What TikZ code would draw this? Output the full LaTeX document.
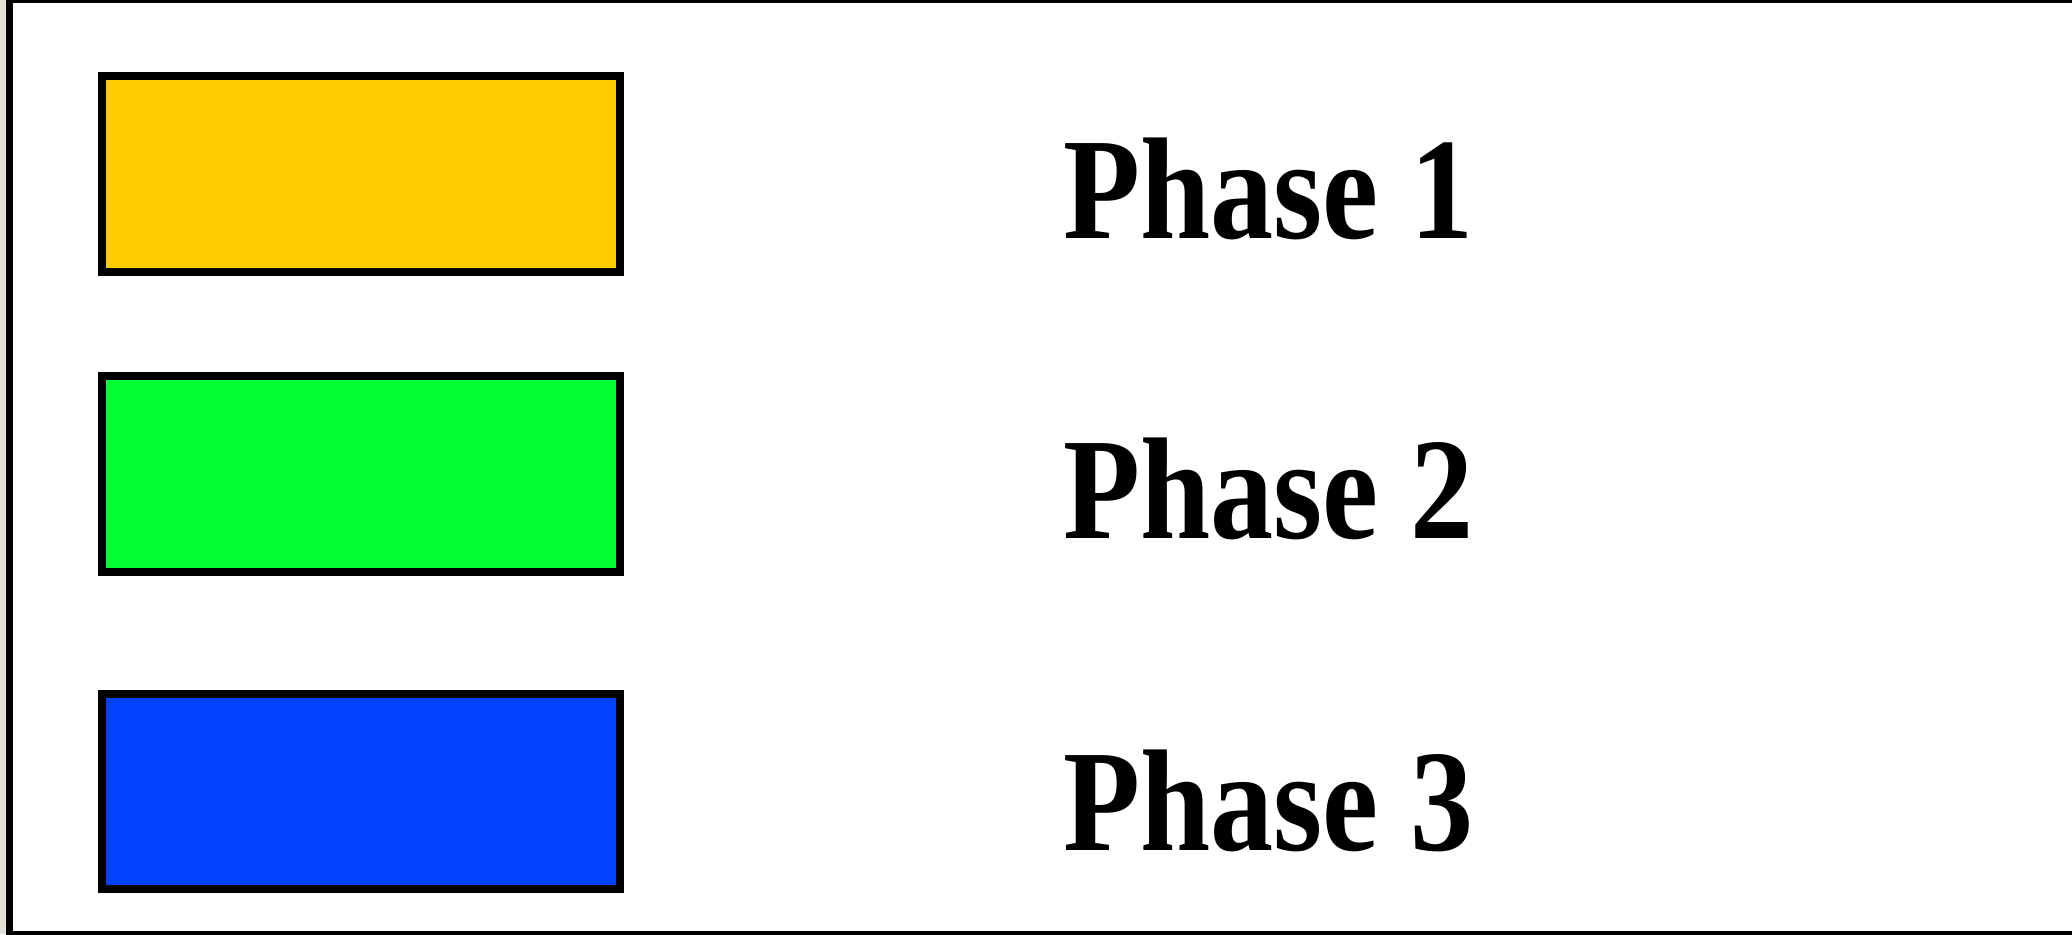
\documentclass[tikz,border=0pt]{standalone}
\usepackage{fontspec}
\setmainfont{Liberation Serif}
\usepackage{xcolor}
\usepackage{graphicx}
\usetikzlibrary{calc, positioning}

\definecolor{phaseyellow}{HTML}{FFCC00}
\definecolor{phasegreen}{HTML}{00FF33}
\definecolor{phaseblue}{HTML}{0042FF}
\definecolor{edgegrey}{HTML}{E3E0D8}

\newcommand{\phasetext}[1]{\scalebox{0.87}[1]{#1}}

\begin{document}
\begin{tikzpicture}[x = 0.5pt, y = -0.5pt,
  phasebox/.style = {draw=black, line width=3.75pt},
  phaselabel/.style = {anchor=base west, inner sep=0pt,
    font=\bfseries\fontsize{72.5}{80}\selectfont}]

  % Fix the page size
  \useasboundingbox (0,0) rectangle (2072,934);

  % Grey strip and outer frame
  \fill[edgegrey] (0,0) rectangle (6,934);
  \draw[line width=3.5pt] (9.5,-0.5) rectangle (2100,934.5);

  % Define corners of the boxes
  \coordinate (Y1) at (102,76);
  \coordinate (Y2) at (620,272);
  \coordinate (G1) at (102,376);
  \coordinate (G2) at (620,572);
  \coordinate (B1) at (102,694);
  \coordinate (B2) at (620,889);

  % Draw the coloured boxes
  \draw[phasebox, fill=phaseyellow] (Y1) rectangle (Y2);
  \draw[phasebox, fill=phasegreen] (G1) rectangle (G2);
  \draw[phasebox, fill=phaseblue] (B1) rectangle (B2);

  % Label the phases
  \node[phaselabel] (phase1) at (1063,238) {\phasetext{Phase 1}};
  \node[phaselabel] (phase2) at (1063,538) {\phasetext{Phase 2}};
  \node[phaselabel] (phase3) at (1063,850) {\phasetext{Phase 3}};

\end{tikzpicture}
\end{document}
